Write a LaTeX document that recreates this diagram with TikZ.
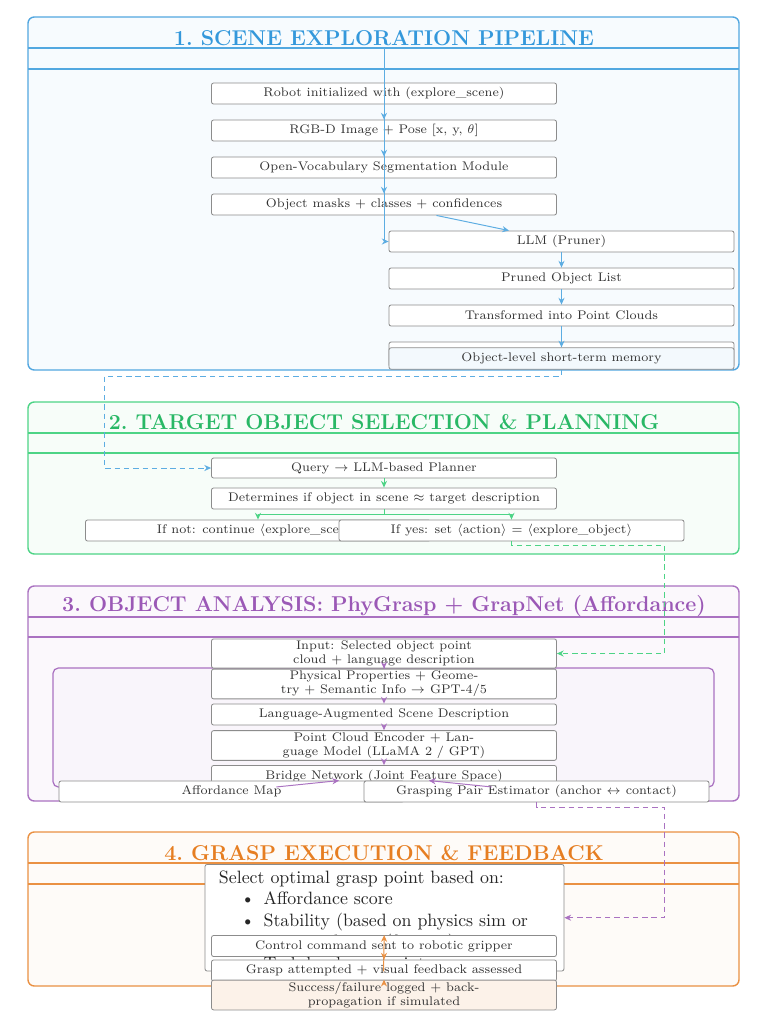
\documentclass[tikz,border=0pt]{standalone}
\usetikzlibrary{arrows.meta,calc}
\definecolor{cblue}{HTML}{3498DB}
\definecolor{cgreen}{HTML}{2ECC71}
\definecolor{cpurple}{HTML}{9B59B6}
\definecolor{corange}{HTML}{E67E22}
\begin{document}
\begin{tikzpicture}[x=0.56pt,y=-0.56pt,
  box/.style={draw=black!45, line width=0.45pt, rounded corners=1.2pt, fill=white,
    minimum width=193.2pt, minimum height=11.8pt, inner sep=1pt,
    font=\scriptsize, text=black!80, align=center},
  frame/.style={line width=0.8pt, rounded corners=3.5pt},
  hline/.style={line width=0.8pt},
  ttl/.style={font=\large\bfseries},
  arr/.style={-{Stealth[length=3.8pt,width=3.4pt]}, line width=0.55pt},
  darr/.style={arr, dash pattern=on 3pt off 2.2pt},
]
\useasboundingbox (0,0) rectangle (768,1024);
\fill[white] (0,0) rectangle (768,1024);

% ---------- frames ----------
\draw[frame, draw=cblue!85, fill=cblue!4] (28,17) rectangle (739,370);
\draw[hline, cblue!85] (28,48) -- (739,48) (28,69) -- (739,69);
\node[ttl, text=cblue] (t1) at (384,38) {1.~SCENE EXPLORATION PIPELINE};

\draw[frame, draw=cgreen!85, fill=cgreen!4] (28,402) rectangle (739,554);
\draw[hline, cgreen!85] (28,433) -- (739,433) (28,453) -- (739,453);
\node[ttl, text=cgreen!90!black] (t2) at (384,422) {2.~TARGET OBJECT SELECTION \& PLANNING};

\draw[frame, draw=cpurple!85, fill=cpurple!4] (28,586) rectangle (739,801);
\draw[hline, cpurple!85] (28,617) -- (739,617) (28,637) -- (739,637);
\node[ttl, text=cpurple] (t3) at (384,606) {3.~OBJECT ANALYSIS: PhyGrasp + GrapNet (Affordance)};
\draw[line width=0.7pt, draw=cpurple!85, fill=cpurple!6, rounded corners=3pt] (53,668) rectangle (714,787);

\draw[frame, draw=corange!85, fill=corange!3] (28,832) rectangle (739,986);
\draw[hline, corange!85] (28,863) -- (739,863) (28,884) -- (739,884);
\node[ttl, text=corange] (t4) at (384,853) {4.~GRASP EXECUTION \& FEEDBACK};

% ---------- section 1 ----------
\node[box] (r1) at (384,93.5) {Robot initialized with (explore\_scene)};
\node[box] (r2) at (384,130.5) {RGB-D Image + Pose [x, y, $\theta$]};
\node[box] (r3) at (384,167.5) {Open-Vocabulary Segmentation Module};
\node[box] (r4) at (384,204.5) {Object masks + classes + confidences};
\node[box] (p1) at (561.5,241.5) {LLM (Pruner)};
\node[box] (p2) at (561.5,278.5) {Pruned Object List};
\node[box] (p3) at (561.5,315.5) {Transformed into Point Clouds};
\node[box, minimum height=14pt] (memb) at (561.5,354.5) {};
\node[box, fill=cblue!6, minimum height=12pt] (mem) at (561.5,358.5) {Object-level short-term memory};

% ---------- section 2 ----------
\node[box, minimum height=11.2pt] (q1) at (384,468) {Query $\rightarrow$ LLM-based Planner};
\node[box] (q2) at (384,498.5) {Determines if object in scene $\approx$ target description};
\node[box] (q3) at (258,530.5) {If not: continue $\langle$explore\_scene$\rangle$};
\node[box] (q4) at (511.5,530.5) {If yes: set $\langle$action$\rangle$ = $\langle$explore\_object$\rangle$};

% ---------- section 3 ----------
\node[box, minimum height=14pt] (a1) at (384,653.5) {Input: Selected object point\\cloud + language description};
\node[box, minimum height=13.4pt] (a2) at (384,684) {Physical Properties + Geome-\\try + Semantic Info $\rightarrow$ GPT-4/5};
\node[box] (a3) at (384,714.5) {Language-Augmented Scene Description};
\node[box, minimum height=14pt] (a4) at (384,745.5) {Point Cloud Encoder + Lan-\\guage Model (LLaMA 2 / GPT)};
\node[box] (a5) at (384,776) {Bridge Network (Joint Feature Space)};
\node[box] (a6) at (231.5,791.5) {Affordance Map};
\node[box] (a7) at (536.5,791.5) {Grasping Pair Estimator (anchor $\leftrightarrow$ contact)};

% ---------- section 4 ----------
\node[draw=black!45, line width=0.45pt, rounded corners=1.2pt, fill=white,
  text width=185.4pt, inner xsep=7.8pt, inner ysep=1pt,
  align=left, text=black!85, anchor=north] (g0) at (384.5,864) {%
  \rule{0pt}{9.6pt}Select optimal grasp point based on:%
  \begin{list}{\textbullet}{\setlength\topsep{0pt}\setlength\partopsep{0pt}%
    \setlength\itemsep{0pt}\setlength\parsep{0pt}\setlength\leftmargin{25pt}%
    \setlength\labelsep{5pt}\setlength\labelwidth{20pt}}
  \item Affordance score
  \item Stability (based on physics sim or estimated mass/friction)
  \item Task-level constraints
  \end{list}};
\node[box] (g1) at (384,946) {Control command sent to robotic gripper};
\node[box] (g2) at (384,970.5) {Grasp attempted + visual feedback assessed};
\node[box, fill=corange!10, minimum height=13.4pt] (g3) at (384,995) {Success/failure logged + back-\\propagation if simulated};

% ---------- connectors ----------
\begin{scope}[cblue!80]
\draw[arr] (r1) -- (r2);
\draw[arr] (r2) -- (r3);
\draw[arr] (r3) -- (r4);
\coordinate (s1h) at (384,48);
\draw[arr] (s1h) |- (p1.west);
\draw[arr] (r4) -- (p1);
\draw[arr] (p1) -- (p2);
\draw[arr] (p2) -- (p3);
\draw[arr] (p3) -- (mem);
\draw[darr] (mem.south) -- ++(0,6.5) -| ($(q1.west)+(-107,0)$) -- (q1.west);
\end{scope}

\begin{scope}[cgreen!85]
\draw[arr] (q1) -- (q2);
\draw[arr] (q2.south) -- ++(0,5.5) -| (q3.north);
\draw[arr] (q2.south) -- ++(0,5.5) -| (q4.north);
\draw[darr] (q4.south) -- ++(0,4) -| ($(a1.east)+(108,0)$) -- (a1.east);
\end{scope}

\begin{scope}[cpurple!85]
\draw[arr] (a1) -- (a2);
\draw[arr] (a2) -- (a3);
\draw[arr] (a3) -- (a4);
\draw[arr] (a4) -- (a5);
\draw[arr] (a5) -- (a6);
\draw[arr] (a5) -- (a7);
\draw[darr] (a7.south) -- ++(0,5) -| ($(g0.east)+(100,0)$) -- (g0.east);
\end{scope}

\begin{scope}[corange!85]
\draw[arr] (g0) -- (g1);
\draw[arr] (g1) -- (g2);
\draw[arr] (g2) -- (g3);
\end{scope}
\end{tikzpicture}
\end{document}
